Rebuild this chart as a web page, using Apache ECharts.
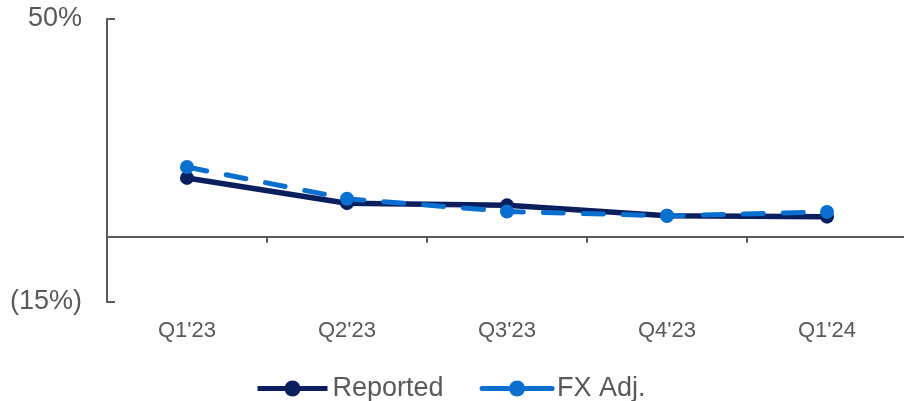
<!DOCTYPE html>
<html>
<head>
<meta charset="utf-8">
<script src="https://cdn.jsdelivr.net/npm/echarts@6/dist/echarts.min.js"></script>
<style>
  html, body { margin: 0; padding: 0; background: #fff; }
  #chart { width: 904px; height: 401px; }
</style>
</head>
<body>
<div id="chart"></div>
<script>
// Quarterly growth, reported vs. FX-adjusted (%)
const quarters = ["Q1'23", "Q2'23", "Q3'23", "Q4'23", "Q1'24"];
const reported = [13.5, 7.7, 7.2, 4.8, 4.6];
const fxAdjusted = [16.0, 8.7, 5.8, 4.8, 5.7];
const yTickValues = [-15, 50];

const axisGrey = '#595959';
const navy = '#0b1f5e';
const blue = '#0a6fcf';
const font = 'Liberation Sans, Arial';

const chart = echarts.init(document.getElementById('chart'));

function pct(v) {
  return v < 0 ? '(' + Math.abs(v) + '%)' : v + '%';
}

chart.setOption({
  animation: false,
  grid: {
    left: 107, top: 19, width: 800, height: 283,
    containLabel: false,
    outerBoundsMode: 'none'
  },
  legend: {
    left: 250,
    top: 370,
    itemWidth: 70,
    itemHeight: 20,
    itemGap: 36,
    lineStyle: { width: 5 },
    textStyle: { fontFamily: font, fontSize: 27, color: axisGrey },
    data: [
      { name: 'Reported' },
      { name: 'FX Adj.', lineStyle: { type: 'solid' } }
    ]
  },
  xAxis: {
    type: 'category',
    data: quarters,
    boundaryGap: true,
    axisLine: { onZero: true, lineStyle: { color: axisGrey, width: 2 } },
    axisTick: { show: true, length: 6, lineStyle: { color: axisGrey, width: 2 } },
    axisLabel: {
      margin: 18,
      fontFamily: font,
      fontSize: 22,
      color: axisGrey
    }
  },
  yAxis: {
    type: 'value',
    min: -15,
    max: 50,
    splitLine: { show: false },
    axisLine: { show: true, lineStyle: { color: axisGrey, width: 2 } },
    axisTick: {
      show: true,
      inside: true,
      length: 8,
      customValues: yTickValues,
      lineStyle: { color: axisGrey, width: 2 }
    },
    axisLabel: {
      customValues: yTickValues,
      margin: 25,
      formatter: pct,
      fontFamily: font,
      fontSize: 27,
      color: axisGrey
    }
  },
  series: [
    {
      name: 'Reported',
      type: 'line',
      data: reported,
      symbol: 'circle',
      symbolSize: 14,
      itemStyle: { color: navy },
      lineStyle: { color: navy, width: 5.5 },
      z: 2
    },
    {
      name: 'FX Adj.',
      type: 'line',
      data: fxAdjusted,
      symbol: 'circle',
      symbolSize: 14,
      itemStyle: { color: blue },
      lineStyle: { color: blue, width: 5, type: [20, 20], cap: 'round' },
      z: 3
    }
  ]
});
</script>
</body>
</html>
